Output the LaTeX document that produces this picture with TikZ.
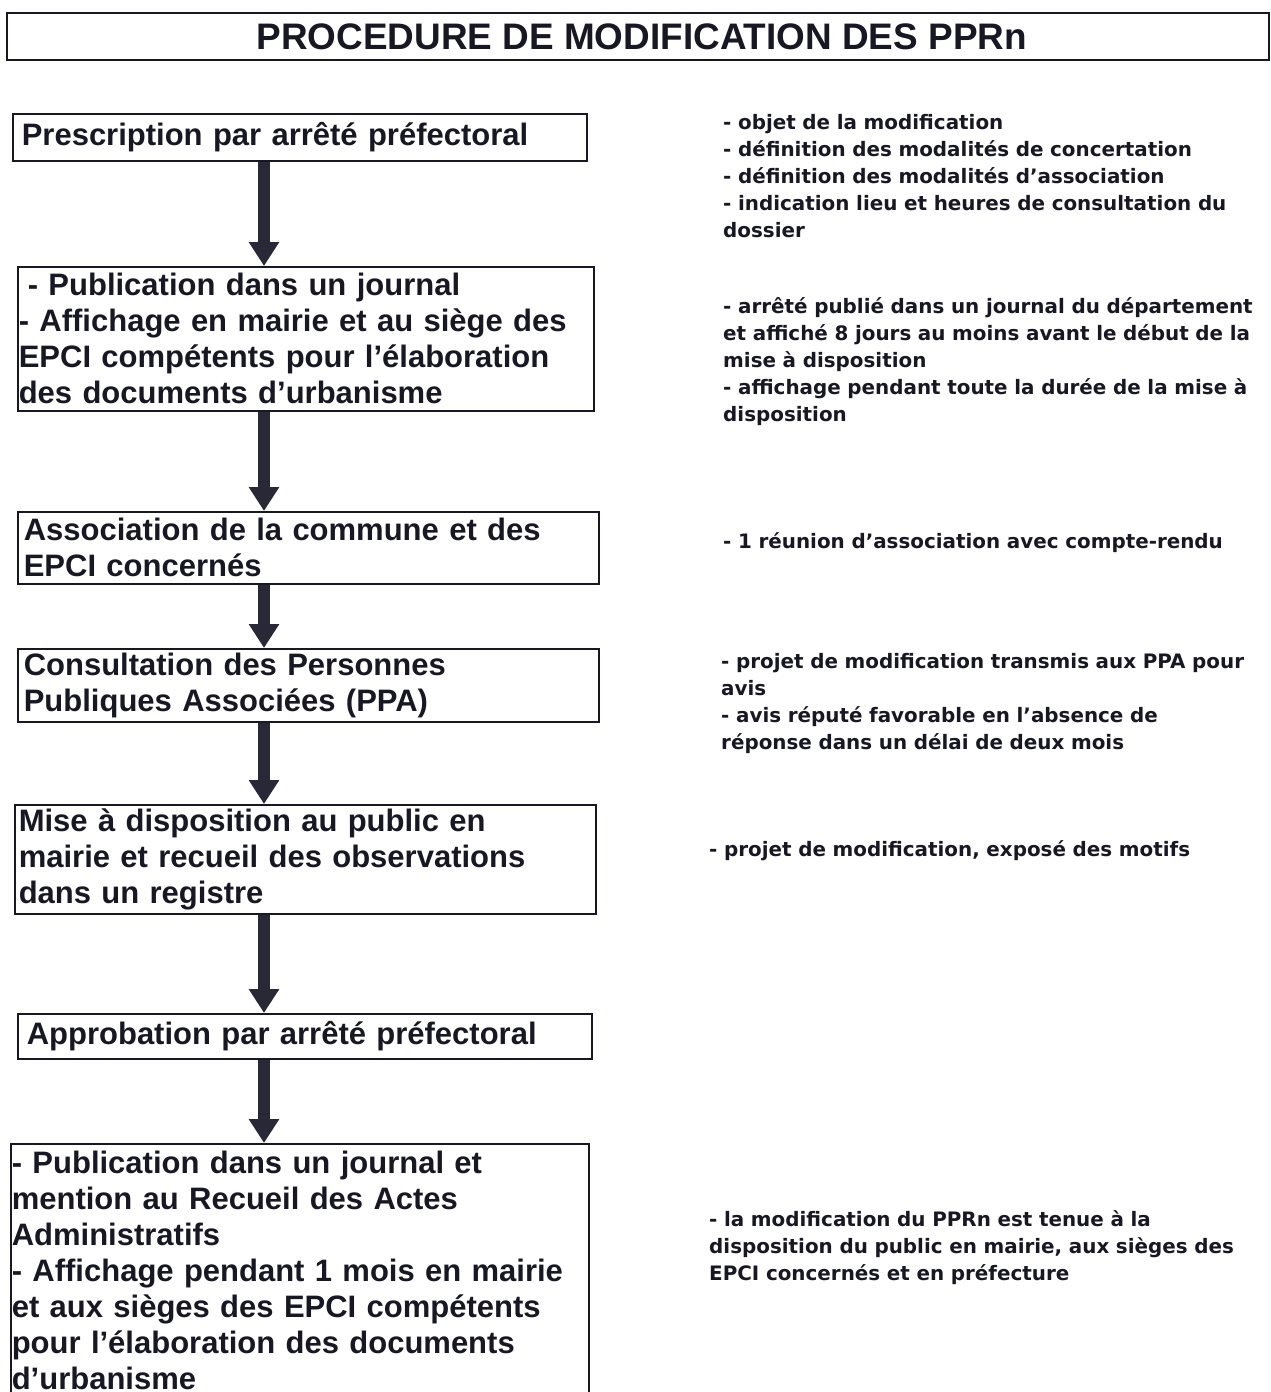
\documentclass[tikz,border=0pt]{standalone}
\usepackage{fontspec}
\setmainfont{Liberation Sans}
\newfontfamily\notefont{DejaVu Sans}
\usetikzlibrary{arrows.meta}
\definecolor{ink}{RGB}{24,24,36}
\definecolor{shaft}{RGB}{40,40,55}

\tikzset{
    stepbox/.style={draw=ink, line width=1.6pt, anchor=north west, inner xsep=1pt, inner ysep=0pt, align=left, text=ink, font=\fontsize{31}{36}\selectfont\bfseries},
    notes/.style={anchor=base west, inner sep=0pt, align=left, text width=560pt, text=ink, font=\notefont\fontsize{19.9}{27}\selectfont\bfseries},
    flow/.style={shaft, line width=12pt, -{Triangle[width=29pt,length=24pt]}},
}

\begin{document}
\begin{tikzpicture}[x=1pt, y=-1pt]
        \useasboundingbox (0,0) rectangle (1271,1392);

        \node (title) at (6,12)[draw=ink, line width=1.6pt, anchor=north west, minimum width=1262pt, minimum height=47pt, inner sep=0pt, text=ink, font=\fontsize{36.9}{40}\selectfont\bfseries] {\hspace*{8pt}PROCEDURE DE MODIFICATION DES PPRn};

        % les etapes
        \node (p1) at (12,113)[stepbox, text width=572pt, minimum height=47pt] {\hspace*{8pt}Prescription par arrêté préfectoral};
        \node (p2) at (17,266)[stepbox, text width=574pt, minimum height=144pt] {\hspace*{9pt}- Publication dans un journal\\- Affichage en mairie et au siège des\\EPCI compétents pour l’élaboration\\des documents d’urbanisme};
        \node (p3) at (17,511)[stepbox, inner xsep=6pt, text width=569pt, minimum height=72pt] {Association de la commune et des\\EPCI concernés};
        \node (p4) at (17,648)[stepbox, inner xsep=6pt, text width=569pt, minimum height=73pt] {Consultation des Personnes\\Publiques Associées (PPA)};
        \node (p5) at (14,804)[stepbox, inner xsep=4pt, text width=573pt, minimum height=109pt] {Mise à disposition au public en\\mairie et recueil des observations\\dans un registre};
        \node (p6) at (17,1013)[stepbox, text width=572pt, minimum height=45pt] {\hspace*{8pt}Approbation par arrêté préfectoral};
        \node (p7) at (10,1143)[stepbox, text width=576pt, minimum height=254pt] {- Publication dans un journal et\\mention au Recueil des Actes\\Administratifs\\- Affichage pendant 1 mois en mairie\\et aux sièges des EPCI compétents\\pour l’élaboration des documents\\d’urbanisme};

        \coordinate (spine) at (264,0);
        \foreach \a/\b in {p1/p2, p2/p3, p3/p4, p4/p5, p5/p6, p6/p7} {
            \draw[flow] (\a.south -| spine) -- (\b.north -| spine);
        }

        % commentaires a droite
        \node (n1) at (723,129)[notes] {- objet de la modification\\- définition des modalités de concertation\\- définition des modalités d’association\\- indication lieu et heures de consultation du\\dossier};
        \node (n2) at (723,313)[notes] {- arrêté publié dans un journal du département\\et affiché 8 jours au moins avant le début de la\\mise à disposition\\- affichage pendant toute la durée de la mise à\\disposition};
        \node (n3) at (723,548)[notes] {- 1 réunion d’association avec compte-rendu};
        \node (n4) at (721,668)[notes] {- projet de modification transmis aux PPA pour\\avis\\- avis réputé favorable en l’absence de\\réponse dans un délai de deux mois};
        \node (n5) at (709,856)[notes] {- projet de modification, exposé des motifs};
        \node (n6) at (709,1226)[notes] {- la modification du PPRn est tenue à la\\disposition du public en mairie, aux sièges des\\EPCI concernés et en préfecture};
\end{tikzpicture}
\end{document}
